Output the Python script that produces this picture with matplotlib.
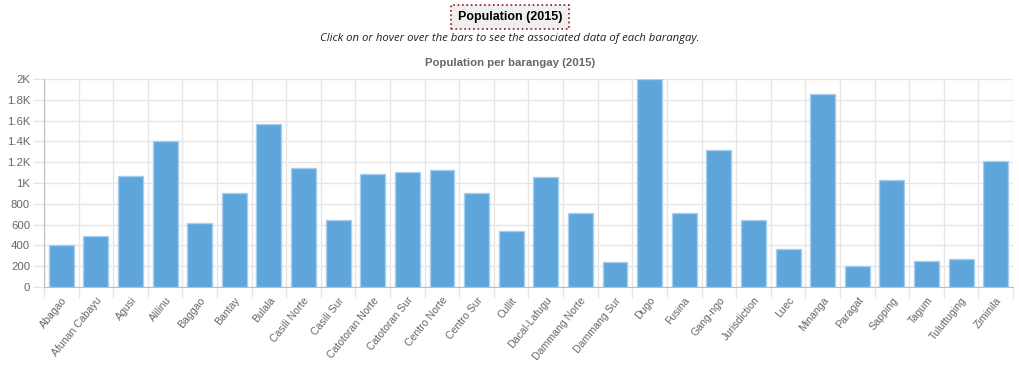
import numpy as np
import matplotlib
matplotlib.use("Agg")
from matplotlib import pyplot as plt
from matplotlib.ticker import FuncFormatter

barangays = ["Abagao", "Afunan Cabayu", "Agusi", "Alilinu", "Baggao", "Bantay",
             "Bulala", "Casili Norte", "Casili Sur", "Catotoran Norte",
             "Catotoran Sur", "Centro Norte", "Centro Sur", "Cullit",
             "Dacal-Lafugu", "Dammang Norte", "Dammang Sur", "Dugo", "Fusina",
             "Gang-ngo", "Jurisdiction", "Luec", "Minanga", "Paragat",
             "Sapping", "Tagum", "Tuluttuging", "Ziminila"]
population = [400, 492, 1066, 1406, 620, 905, 1568, 1146, 642, 1085,
              1104, 1127, 905, 536, 1059, 713, 245, 1998, 707, 1313,
              649, 370, 1853, 206, 1025, 247, 273, 1208]
y_ticks = [0, 200, 400, 600, 800, 1000, 1200, 1400, 1600, 1800, 2000]

plt.rcParams['font.family'] = ['Liberation Sans', 'DejaVu Sans']

fig = plt.figure(figsize=(10.2, 3.65), dpi=100)
ax = fig.add_axes([44/1020, 1 - 287/365, (1013 - 44)/1020, (287 - 79)/365])

x = np.arange(len(barangays))
ax.bar(x, population, width=0.72, color='#5DA5DA', edgecolor='#a9cdee',
       linewidth=1, zorder=3)

ax.set_xlim(-0.5, len(barangays) - 0.5)
ax.set_ylim(0, 2000)

grid_c = '#e6e6e6'
# labels at category centres, grid lines at category edges
ax.set_xticks(x)
ax.set_xticklabels(barangays, rotation=51, ha='right', rotation_mode='anchor',
                   fontsize=7.6, color='#666666')
ax.set_xticks(np.arange(len(barangays) + 1) - 0.5, minor=True)
ax.tick_params(axis='x', which='major', length=0, pad=6)
ax.tick_params(axis='x', which='minor', length=8, color=grid_c, width=1)
ax.grid(True, axis='x', which='minor', color=grid_c, linewidth=1, zorder=0)

ax.set_yticks(y_ticks)
ax.yaxis.set_major_formatter(FuncFormatter(
    lambda v, p: "0" if v == 0 else (f"{v/1000:g}K" if v >= 1000 else f"{v:g}")))
ax.tick_params(axis='y', length=8, color=grid_c, width=1, labelsize=8.2,
               labelcolor='#666666', pad=2)
ax.grid(True, axis='y', color=grid_c, linewidth=1, zorder=0)

for s in ['top', 'right']:
    ax.spines[s].set_visible(False)
ax.spines['left'].set_color('#bdbdbd')
ax.spines['bottom'].set_color('#bdbdbd')

fig.text(0.5, 1 - 17/365, "Population (2015)", ha='center', va='center',
         fontsize=9, fontweight='bold', color='black',
         bbox=dict(boxstyle='square,pad=0.5', facecolor='#efefef',
                   edgecolor='#8b1a1a', linestyle=':', linewidth=1.2))
fig.text(0.5, 1 - 39/365,
         "Click on or hover over the bars to see the associated data of each barangay.",
         ha='center', va='center', fontsize=8.2, style='italic',
         family=['Open Sans', 'DejaVu Sans'], color='#222222')
fig.text(0.5, 1 - 63/365, "Population per barangay (2015)", ha='center',
         va='center', fontsize=8.2, fontweight='bold', color='#666666')

fig.savefig("out.png", dpi=100)
